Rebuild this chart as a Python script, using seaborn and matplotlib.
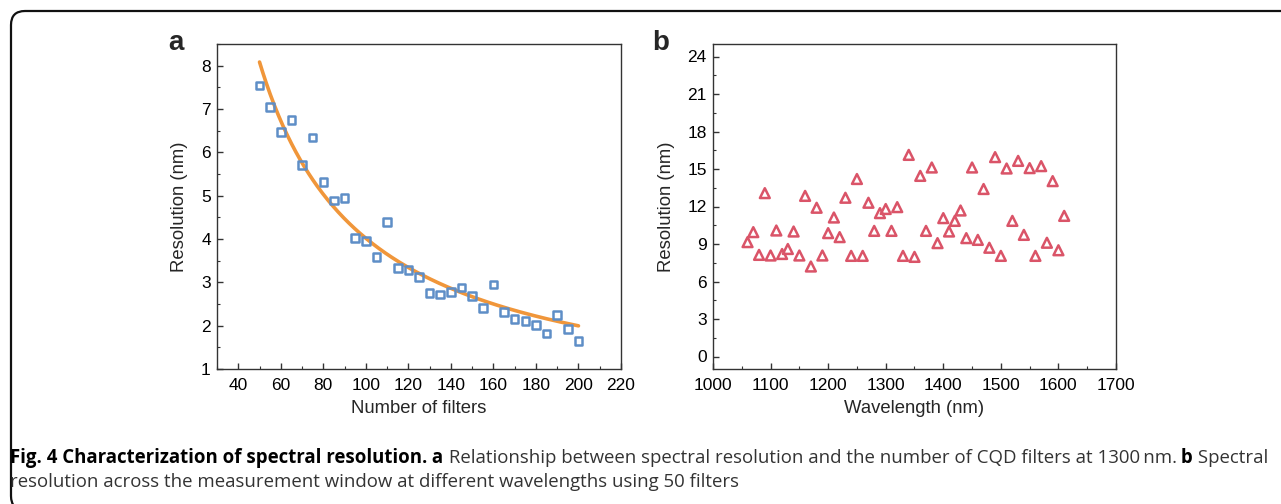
import numpy as np
import pandas as pd
import matplotlib
matplotlib.use("Agg")
import matplotlib.pyplot as plt
import seaborn as sns
from matplotlib.patches import FancyBboxPatch
from matplotlib.transforms import IdentityTransform
from matplotlib.ticker import MultipleLocator

# ---------------- data ----------------
filters_n = [50, 55, 60, 65, 70, 75, 80, 85, 90, 95, 100, 105, 110, 115, 120, 125,
             130, 135, 140, 145, 150, 155, 160, 165, 170, 175, 180, 185, 190, 195, 200]
resolution_a = [7.54, 7.04, 6.47, 6.74, 5.71, 6.34, 5.32, 4.89, 4.94, 4.03, 3.95, 3.58,
                4.39, 3.33, 3.28, 3.12, 2.76, 2.72, 2.78, 2.88, 2.68, 2.41, 2.95, 2.32,
                2.15, 2.11, 2.02, 1.82, 2.25, 1.92, 1.65]

wavelength_b = list(range(1060, 1611, 10))
resolution_b = [9.15, 9.95, 8.13, 13.07, 8.08, 10.08, 8.2, 8.6, 10.0, 8.08,
                12.85, 7.2, 11.9, 8.08, 9.87, 11.12, 9.55, 12.7, 8.05, 14.2,
                8.05, 12.3, 10.05, 11.47, 11.8, 10.05, 11.95, 8.05, 16.13, 7.97,
                14.45, 10.05, 15.12, 9.07, 11.07, 10.0, 10.85, 11.68, 9.47, 15.12,
                9.33, 13.4, 8.7, 15.95, 8.05, 15.04, 10.85, 15.65, 9.73, 15.07,
                8.05, 15.23, 9.1, 14.03, 8.5, 11.25]

xticks_a = [40, 60, 80, 100, 120, 140, 160, 180, 200, 220]
yticks_a = [1, 2, 3, 4, 5, 6, 7, 8]
xticks_b = [1000, 1100, 1200, 1300, 1400, 1500, 1600, 1700]
yticks_b = [0, 3, 6, 9, 12, 15, 18, 21, 24]

df_a = pd.DataFrame({"n": filters_n, "res": resolution_a})
df_b = pd.DataFrame({"wl": wavelength_b, "res": resolution_b})

# least-squares allometric fit of panel a data: res = a * n**b
xn = df_a["n"].to_numpy(float)
yn = df_a["res"].to_numpy(float)
best = None
for b in np.arange(-2.0, -0.2, 0.001):
    xb = xn ** b
    a = np.sum(yn * xb) / np.sum(xb * xb)
    sse = np.sum((yn - a * xb) ** 2)
    if best is None or sse < best[0]:
        best = (sse, a, b)
_, a_fit, b_fit = best
fit_x = np.linspace(min(filters_n), max(filters_n), 300)
df_fit = pd.DataFrame({"n": fit_x, "res": a_fit * fit_x ** b_fit})

# ---------------- style ----------------
sns.set_theme(style="ticks")
plt.rcParams["font.family"] = ["Liberation Sans", "DejaVu Sans"]
plt.rcParams["axes.edgecolor"] = "#333333"
plt.rcParams["axes.linewidth"] = 1.0

BLUE = "#5E8EC7"
ORANGE = "#F0963A"
RED = "#DA5468"

fig = plt.figure(figsize=(12.81, 5.04), dpi=100)
W, H = 1281, 504


def ax_rect(l, t, r, b):
    return [l / W, 1 - b / H, (r - l) / W, (b - t) / H]


ax_a = fig.add_axes(ax_rect(217, 44, 621, 369))
ax_b = fig.add_axes(ax_rect(713, 44, 1116, 369))

# panel a
sns.lineplot(data=df_fit, x="n", y="res", ax=ax_a, color=ORANGE, lw=2.6, zorder=2)
sns.scatterplot(data=df_a, x="n", y="res", ax=ax_a, marker="s", s=30,
                facecolor="none", edgecolor=BLUE, linewidth=1.8, zorder=3)
ax_a.set_xlim(30, 220)
ax_a.set_ylim(1, 8.5)
ax_a.set_xticks(xticks_a)
ax_a.set_yticks(yticks_a)
ax_a.xaxis.set_minor_locator(MultipleLocator(10))
ax_a.yaxis.set_minor_locator(MultipleLocator(0.5))
ax_a.set_xlabel("Number of filters")
ax_a.set_ylabel("Resolution (nm)")

# panel b
sns.scatterplot(data=df_b, x="wl", y="res", ax=ax_b, marker="^", s=50,
                facecolor="none", edgecolor=RED, linewidth=1.8, zorder=3)
ax_b.set_xlim(1000, 1700)
ax_b.set_ylim(-1, 25)
ax_b.set_xticks(xticks_b)
ax_b.set_yticks(yticks_b)
ax_b.xaxis.set_minor_locator(MultipleLocator(50))
ax_b.yaxis.set_minor_locator(MultipleLocator(1.5))
ax_b.set_xlabel("Wavelength (nm)")
ax_b.set_ylabel("Resolution (nm)")

for ax in (ax_a, ax_b):
    for s in ax.spines.values():
        s.set_visible(True)
        s.set_color("#333333")
        s.set_linewidth(1.0)
    ax.tick_params(which="both", direction="in", top=False, right=False,
                   labelsize=12.5, colors="#333333", labelcolor="black")
    ax.tick_params(which="major", length=4.5, width=1.0)
    ax.tick_params(which="minor", length=2.3, width=0.8)
    ax.tick_params(axis="x", which="major", pad=6.5)
    ax.tick_params(axis="y", which="major", pad=4.5)
    ax.xaxis.label.set_size(13.3)
    ax.yaxis.label.set_size(13.3)
    ax.xaxis.labelpad = 5
    ax.yaxis.labelpad = 9
    ax.grid(False)

# panel letters
fig.text(168 / W, 1 - 50 / H, "a", fontsize=20, fontweight="bold", va="baseline", ha="left")
fig.text(652 / W, 1 - 50 / H, "b", fontsize=20, fontweight="bold", va="baseline", ha="left")

# rounded frame (cut off at right and bottom)
frame = FancyBboxPatch((11, H - 510), 1400, 510 - 11, boxstyle="round,pad=0,rounding_size=14",
                       transform=IdentityTransform(), fill=False, lw=1.6, ec="#111111")
fig.add_artist(frame)

# caption
cap_font = ["Open Sans", "DejaVu Sans"]
cap_size = 13.4
renderer = fig.canvas.get_renderer()
pieces = [("Fig. 4 Characterization of spectral resolution.", "bold", "black"),
          (" a", "bold", "black"),
          (" Relationship between spectral resolution and the number of CQD filters at 1300\u2009nm.", "normal", "#333333"),
          (" b", "bold", "black"),
          (" Spectral", "normal", "#333333")]
x = 10
y1 = H - 463
for txt, wt, col in pieces:
    t = fig.text(x, y1, txt, transform=IdentityTransform(), fontsize=cap_size,
                 fontweight=wt, color=col, family=cap_font, va="baseline", ha="left")
    bb = t.get_window_extent(renderer)
    x = bb.x1
fig.text(10, H - 487, "resolution across the measurement window at different wavelengths using 50 filters",
         transform=IdentityTransform(), fontsize=cap_size, color="#333333", family=cap_font,
         va="baseline", ha="left")

fig.savefig("out.png", dpi=100)
